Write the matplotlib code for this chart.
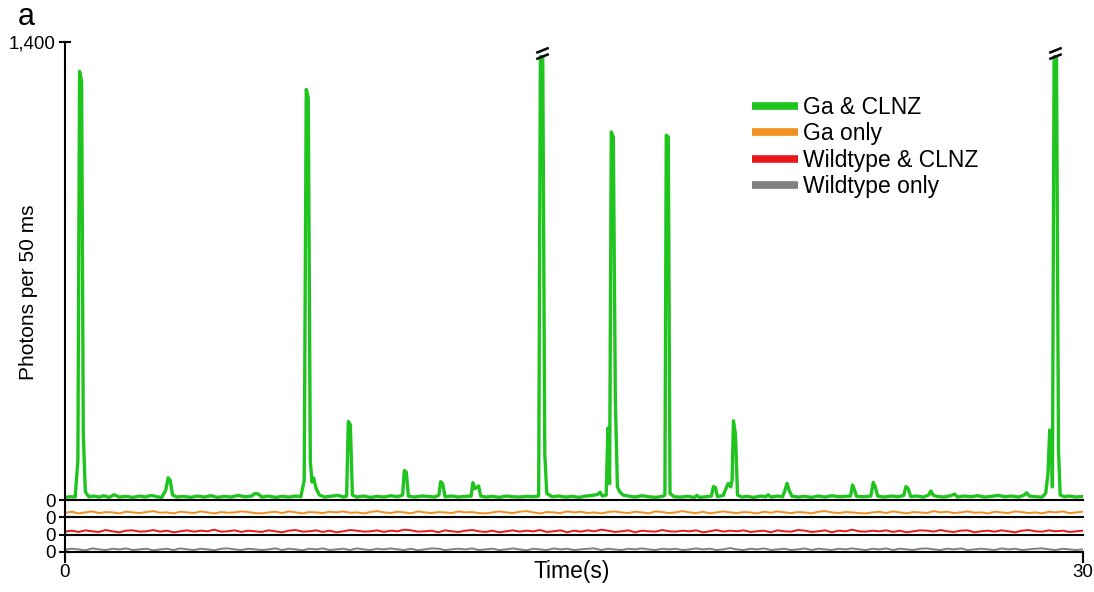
import numpy as np
import matplotlib
matplotlib.use("Agg")
import matplotlib.pyplot as plt
from matplotlib.lines import Line2D
from matplotlib.path import Path

plt.rcParams['font.family'] = ['Liberation Sans', 'DejaVu Sans']

# Ga & CLNZ trace (time in s, photons per 50 ms)
green_trace = [
    (0.00, 8), (0.15, 10), (0.30, 9), (0.38, 120), (0.43, 1310), (0.49, 1280), (0.54, 200),
    (0.60, 25), (0.70, 10), (0.85, 12), (1.00, 9), (1.15, 13), (1.30, 8), (1.45, 16), (1.60, 9),
    (1.80, 11), (2.00, 8), (2.20, 12), (2.35, 9), (2.55, 14), (2.70, 10), (2.85, 8), (2.97, 30),
    (3.04, 68), (3.10, 60), (3.17, 15), (3.30, 9), (3.50, 11), (3.70, 8), (3.90, 12), (4.10, 9),
    (4.30, 13), (4.50, 8), (4.70, 11), (4.90, 9), (5.10, 14), (5.30, 10), (5.50, 12), (5.60, 20),
    (5.70, 18), (5.80, 9), (6.00, 12), (6.20, 8), (6.40, 11), (6.60, 9), (6.80, 12), (6.95, 10),
    (7.05, 60), (7.11, 1255), (7.17, 1230), (7.23, 120), (7.28, 55), (7.33, 67), (7.40, 35),
    (7.50, 15), (7.65, 9), (7.85, 12), (8.05, 14), (8.20, 9), (8.30, 12), (8.35, 240), (8.41, 230),
    (8.47, 15), (8.60, 9), (8.80, 12), (9.00, 8), (9.20, 11), (9.40, 9), (9.60, 13), (9.80, 10),
    (9.95, 15), (10.00, 90), (10.06, 85), (10.12, 12), (10.30, 9), (10.50, 12), (10.70, 11),
    (10.90, 9), (11.02, 15), (11.07, 56), (11.13, 50), (11.20, 10), (11.40, 12), (11.60, 9),
    (11.80, 11), (11.97, 12), (12.02, 53), (12.08, 35), (12.13, 38), (12.19, 43), (12.25, 12),
    (12.40, 9), (12.60, 11), (12.80, 8), (13.00, 12), (13.20, 10), (13.40, 9), (13.60, 11),
    (13.80, 10), (13.96, 12), (14.01, 1500), (14.08, 1500), (14.14, 140), (14.20, 20),
    (14.35, 10), (14.55, 12), (14.75, 9), (14.95, 11), (15.15, 8), (15.35, 12), (15.55, 14),
    (15.70, 17), (15.77, 24), (15.84, 12), (15.95, 15), (16.00, 220), (16.05, 50), (16.10, 1125),
    (16.16, 1110), (16.22, 300), (16.28, 40), (16.35, 25), (16.45, 15), (16.60, 12), (16.80, 9),
    (17.00, 13), (17.20, 10), (17.40, 8), (17.60, 11), (17.68, 15), (17.72, 1115), (17.78, 1110),
    (17.83, 20), (17.95, 10), (18.15, 9), (18.35, 11), (18.55, 8), (18.62, 14), (18.70, 8),
    (18.90, 10), (19.05, 12), (19.11, 41), (19.17, 38), (19.23, 10), (19.40, 14), (19.50, 40),
    (19.55, 51), (19.62, 40), (19.66, 60), (19.70, 242), (19.76, 200), (19.82, 15), (19.95, 9),
    (20.10, 11), (20.30, 8), (20.50, 12), (20.65, 10), (20.72, 16), (20.80, 9), (21.00, 12),
    (21.15, 10), (21.22, 30), (21.28, 51), (21.34, 30), (21.42, 12), (21.60, 9), (21.80, 11),
    (22.00, 8), (22.20, 12), (22.40, 9), (22.60, 13), (22.80, 10), (23.00, 11), (23.15, 12),
    (23.21, 46), (23.27, 30), (23.33, 11), (23.55, 10), (23.75, 12), (23.82, 54), (23.88, 40),
    (23.95, 12), (24.15, 9), (24.35, 12), (24.55, 10), (24.72, 14), (24.78, 41), (24.85, 35),
    (24.92, 11), (25.10, 12), (25.30, 9), (25.45, 15), (25.52, 28), (25.58, 15), (25.70, 11),
    (25.90, 9), (26.10, 13), (26.22, 18), (26.30, 9), (26.50, 12), (26.70, 10), (26.90, 13),
    (27.10, 9), (27.30, 11), (27.50, 14), (27.70, 10), (27.90, 12), (28.10, 9), (28.25, 14),
    (28.34, 22), (28.42, 12), (28.60, 10), (28.80, 9), (28.90, 20), (28.97, 80), (29.02, 214),
    (29.07, 180), (29.10, 40), (29.15, 1600), (29.22, 1600), (29.28, 150), (29.33, 15),
    (29.45, 10), (29.60, 12), (29.80, 9), (30.00, 11),
]

# control traces, one value every 0.2 s
strip_dt = 0.2
ga_only = [
    14, 17, 12, 15, 18, 13, 16, 15, 12, 17, 15, 13, 16, 19, 14,
    15, 12, 17, 15, 13, 18, 15, 12, 16, 14, 15, 18, 16, 13, 12,
    15, 17, 13, 18, 15, 12, 16, 15, 13, 17, 15, 18, 14, 15, 12,
    16, 19, 15, 13, 17, 15, 12, 18, 15, 13, 16, 15, 13, 18, 15,
    16, 13, 12, 15, 18, 15, 13, 17, 19, 15, 12, 16, 15, 13, 18,
    15, 17, 13, 15, 12, 16, 18, 15, 13, 17, 15, 12, 18, 16, 13,
    15, 19, 15, 13, 17, 12, 15, 18, 15, 13, 16, 15, 12, 17, 14,
    18, 15, 13, 16, 15, 12, 17, 19, 15, 13, 16, 15, 13, 12, 15,
    17, 13, 18, 15, 12, 16, 15, 13, 19, 15, 17, 13, 15, 18, 14,
    15, 12, 17, 15, 13, 18, 16, 13, 15, 12, 17, 15, 18, 13, 15,
    17,
]
wt_clnz = [
    9, 12, 8, 13, 10, 8, 14, 10, 7, 12, 13, 9, 10, 14, 9,
    12, 7, 10, 13, 9, 12, 10, 15, 9, 10, 13, 8, 12, 10, 8,
    13, 10, 7, 12, 14, 9, 10, 13, 8, 12, 7, 10, 14, 12, 9,
    10, 13, 8, 12, 10, 15, 13, 9, 10, 12, 7, 13, 10, 8, 12,
    14, 10, 8, 12, 7, 10, 13, 9, 12, 10, 14, 8, 10, 13, 7,
    12, 9, 13, 10, 15, 12, 8, 10, 13, 7, 12, 10, 9, 14, 10,
    9, 12, 10, 13, 7, 10, 14, 9, 12, 10, 13, 8, 10, 12, 7,
    13, 10, 9, 14, 12, 8, 10, 13, 7, 12, 10, 15, 10, 9, 12,
    10, 13, 8, 12, 7, 10, 13, 12, 9, 14, 10, 8, 12, 13, 7,
    10, 12, 9, 13, 10, 7, 12, 14, 10, 9, 13, 10, 12, 8, 10,
    12,
]
wt_only = [
    7, 10, 8, 5, 11, 8, 6, 10, 8, 11, 6, 8, 10, 5, 8,
    10, 6, 11, 8, 6, 10, 8, 5, 10, 11, 8, 6, 10, 8, 6,
    8, 11, 6, 10, 8, 5, 10, 8, 11, 6, 8, 10, 6, 11, 8,
    6, 10, 8, 11, 8, 6, 10, 5, 8, 11, 10, 6, 8, 10, 8,
    11, 6, 8, 10, 6, 8, 11, 8, 5, 10, 8, 6, 11, 8, 10,
    6, 8, 10, 11, 6, 10, 8, 6, 10, 8, 11, 8, 6, 10, 8,
    10, 6, 8, 11, 8, 10, 6, 8, 12, 8, 6, 10, 8, 11, 6,
    8, 10, 6, 8, 11, 6, 10, 8, 6, 10, 8, 11, 8, 6, 10,
    8, 11, 6, 10, 8, 6, 10, 11, 8, 6, 10, 8, 11, 6, 8,
    10, 8, 6, 11, 8, 10, 6, 8, 10, 11, 8, 6, 10, 8, 6,
    8,
]

labels = ['Ga & CLNZ', 'Ga only', 'Wildtype & CLNZ', 'Wildtype only']
colors = ['#1fc41f', '#f0901e', '#e8171b', '#808080']

y_max = 1400
break_level = 1355      # where the off-scale peaks are cut
strip_max = 53

# figure layout
fig = plt.figure(figsize=(10.94, 5.92), dpi=100)
left, width = 0.0594, 0.9305
ax = fig.add_axes([left, 0.1554, width, 0.7737])
strip_axes = [fig.add_axes([left, b, width, 0.0292]) for b in (0.1262, 0.0970, 0.0676)]

# main trace
gt, gv = np.array(green_trace, dtype=float).T
ax.plot(gt, np.minimum(gv, break_level), color=colors[0], lw=2.4)

# axis-break marks on top of clipped peaks
brk = Path([(-1, -0.9), (1, -0.1), (-1, 0.1), (1, 0.9)],
           [Path.MOVETO, Path.LINETO, Path.MOVETO, Path.LINETO])
for t in [14.045, 29.185]:
    ax.plot([t], [break_level + 12], marker=brk, markersize=9, mew=1.8,
            color='black', clip_on=False, zorder=5)

ax.set_xlim(0, 30)
ax.set_ylim(0, y_max)
ax.set_yticks([0, y_max])
ax.set_yticklabels(['0', '1,400'])

for a in [ax] + strip_axes:
    for s in ['top', 'right']:
        a.spines[s].set_visible(False)
    a.spines['left'].set_linewidth(1.5)
    a.spines['bottom'].set_linewidth(1.5)
    a.set_xlim(0, 30)
    a.tick_params(axis='y', direction='inout', length=9, width=1.5, labelsize=13.5, pad=2)
    a.patch.set_visible(False)

ax.tick_params(axis='x', bottom=False, labelbottom=False)

strip_t = np.arange(len(ga_only)) * strip_dt
for a, vals, c in zip(strip_axes, [ga_only, wt_clnz, wt_only], colors[1:]):
    a.plot(strip_t, vals, color=c, lw=1.4)
    a.set_ylim(0, strip_max)
    a.set_yticks([0])
    a.set_yticklabels(['0'])
    a.tick_params(axis='x', bottom=False, labelbottom=False)

bottom = strip_axes[-1]
bottom.set_xticks([0, 30])
bottom.set_xticklabels(['0', '30'])
bottom.tick_params(axis='x', bottom=True, labelbottom=True, direction='out',
                   length=8, width=1.5, labelsize=13.5, pad=1)

# legend
handles = [Line2D([], [], color=c, lw=5.5, solid_capstyle='butt') for c in colors]
fig.legend(handles, labels, loc='upper left', bbox_to_anchor=(0.6874, 0.838),
           frameon=False, fontsize=16.5, handlelength=2.0, handletextpad=0.22,
           labelspacing=0.15, borderpad=0, borderaxespad=0)

fig.text(0.026, 0.507, 'Photons per 50 ms', rotation=90, ha='center', va='center', fontsize=15)
fig.text(0.523, 0.035, 'Time(s)', ha='center', va='center', fontsize=16.5)
fig.text(0.016, 0.972, 'a', ha='left', va='center', fontsize=22)

fig.savefig('out.png', dpi=100)
